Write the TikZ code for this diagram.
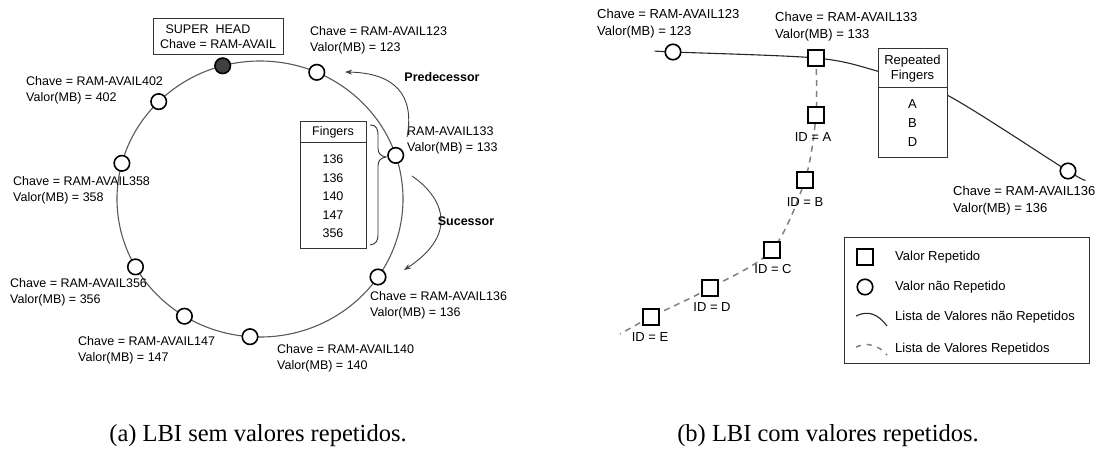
\documentclass[tikz,border=0pt]{standalone}
\usepackage{fontspec}
\setmainfont{Liberation Serif}
\newfontfamily\arialf{Liberation Sans}
\usetikzlibrary{arrows.meta,backgrounds}
\begin{document}
\begin{tikzpicture}[x=1pt,y=-1pt,
  lf/.style={font=\arialf\fontsize{12.5}{16}\selectfont, inner sep=0pt, align=left, anchor=west},
  rf/.style={font=\arialf\fontsize{13}{17}\selectfont, inner sep=0pt, align=left, anchor=west},
  ctext/.style={font=\arialf\fontsize{12.5}{15}\selectfont, inner sep=0pt},
  rctext/.style={font=\arialf\fontsize{13}{15}\selectfont, inner sep=0pt},
  btext/.style={font=\arialf\bfseries\fontsize{12.5}{15}\selectfont, inner sep=0pt},
  ringnode/.style={circle, draw=black, line width=1.6pt, fill=white, minimum size=15.5pt, inner sep=0pt},
  sqnode/.style={rectangle, draw=black, line width=1.8pt, fill=white, minimum size=16.5pt, inner sep=0pt},
  ring/.style={draw=black!65, line width=1.1pt},
  solidlist/.style={draw=black!85, line width=1.1pt},
  dashlist/.style={draw=black!50, line width=1.5pt, dash pattern=on 6pt off 5pt},
  arr/.style={draw=black!75, line width=0.9pt, -{Stealth[length=7pt,width=5pt]}},
  boxn/.style={draw=black!80, line width=1pt, fill=white, inner sep=0pt},
  capt/.style={font=\fontsize{24.5}{28}\selectfont, inner sep=0pt}
]
\useasboundingbox (0,0) rectangle (1109,453);

% ---------------- left diagram ----------------
\coordinate (C) at (260,199);
\draw[ring] (C) ellipse [x radius=143pt, y radius=138pt];

\node[ringnode, fill=black!75] (sh) at (222.7,65.8) {};
\node[ringnode] (n123) at (316.8,72.3) {};
\node[ringnode] (n402) at (158.7,101.6) {};
\node[ringnode] (n133) at (395.7,155.4) {};
\node[ringnode] (n358) at (121.9,163.3) {};
\node[ringnode] (n356) at (135.5,266.9) {};
\node[ringnode] (n147) at (184.4,316.2) {};
\node[ringnode] (n140) at (250,336.7) {};
\node[ringnode] (n136) at (378,277) {};

\node[boxn, minimum width=130pt, minimum height=36pt] (shbox) at (218,36) {};
\node[ctext] (shl1) at (208,29) {SUPER\ \ HEAD};
\node[ctext] (shl2) at (218,44) {Chave = RAM-AVAIL};

\node[lf] (l123) at (310,40.5) {Chave = RAM-AVAIL123\\Valor(MB) = 123};
\node[lf] (l402) at (26,90.5) {Chave = RAM-AVAIL402\\Valor(MB) = 402};
\node[lf] (l133) at (407,140.5) {RAM-AVAIL133\\Valor(MB) = 133};
\node[lf] (l358) at (13,190) {Chave = RAM-AVAIL358\\Valor(MB) = 358};
\node[lf] (l356) at (10,292) {Chave = RAM-AVAIL356\\Valor(MB) = 356};
\node[lf] (l147) at (78,350) {Chave = RAM-AVAIL147\\Valor(MB) = 147};
\node[lf] (l140) at (277,358) {Chave = RAM-AVAIL140\\Valor(MB) = 140};
\node[lf] (l136) at (370,305) {Chave = RAM-AVAIL136\\Valor(MB) = 136};

% fingers table
\node[boxn, minimum width=66pt, minimum height=127pt] (fing) at (333,184.5) {};
\coordinate (fdiv) at (0,142);
\draw[black!80, line width=1pt] (fing.west |- fdiv) -- (fing.east |- fdiv);
\node[ctext] (fhead) at (333,132) {Fingers};
\node[ctext] (f1) at (333,159) {136};
\node[ctext] (f2) at (333,178) {136};
\node[ctext] (f3) at (333,196) {140};
\node[ctext] (f4) at (333,215) {147};
\node[ctext] (f5) at (333,233) {356};

% brace
\draw[black!80, line width=0.9pt] (370,125) .. controls (377,125) and (378,129) .. (378,137)
  -- (378,148) .. controls (378,154) and (381,156) .. (386,157)
  .. controls (381,158) and (378,160) .. (378,166)
  -- (378,235) .. controls (378,241) and (376,244) .. (370,245);

% predecessor / successor
\coordinate (pstart) at (407,137);
\coordinate (pend) at (345,72);
\draw[arr] (pstart) .. controls (415,95) and (395,73) .. (pend);
\node[btext] (pred) at (442,77) {Predecessor};
\coordinate (sstart) at (412,176);
\coordinate (send) at (404,270);
\draw[arr] (sstart) .. controls (440,195) and (462,232) .. (send);
\node[btext] (succ) at (466,221) {Sucessor};

% ---------------- right diagram ----------------
\node[ringnode] (r123) at (673,52) {};
\node[sqnode] (s133) at (816,58) {};
\node[boxn, minimum width=69pt, minimum height=109pt] (rfb) at (912.5,102.5) {};
\coordinate (rdiv) at (0,87);
\draw[black!80, line width=1pt] (rfb.west |- rdiv) -- (rfb.east |- rdiv);
\node[rctext] (rf1) at (912.5,61) {Repeated};
\node[rctext] (rf2) at (912.5,76) {Fingers};
\node[rctext] (rfa) at (912.5,104) {A};
\node[rctext] (rfbb) at (912.5,123) {B};
\node[rctext] (rfd) at (912.5,142) {D};
\node[ringnode] (r136) at (1068,171) {};

\node[sqnode] (sA) at (816,115) {};
\node[sqnode] (sB) at (805,180) {};
\node[sqnode] (sC) at (772,250) {};
\node[sqnode] (sD) at (710,288) {};
\node[sqnode] (sE) at (651,317) {};
\node[rctext] (idA) at (813,137) {ID = A};
\node[rctext] (idB) at (805,202) {ID = B};
\node[rctext] (idC) at (773,269) {ID = C};
\node[rctext] (idD) at (712,307) {ID = D};
\node[rctext] (idE) at (650,337) {ID = E};

\node[rf] (rl123) at (597,24) {Chave = RAM-AVAIL123\\Valor(MB) = 123};
\node[rf] (rl133) at (775,26.5) {Chave = RAM-AVAIL133\\Valor(MB) = 133};
\node[rf] (rl136) at (953,201) {Chave = RAM-AVAIL136\\Valor(MB) = 136};

\coordinate (rstart) at (655,51);
\coordinate (rin) at (877,71);
\coordinate (rout) at (947,95);
\coordinate (rend) at (1085,180);
\coordinate (dend) at (620,334);
\begin{scope}[on background layer]
\draw[solidlist] plot[smooth, tension=0.5] coordinates {(rstart) (r123.center) (s133.center) (rin) (rout) (r136.center) (rend)};
\draw[dashlist] plot[smooth, tension=0.5] coordinates {(s133.center) (sA.center) (sB.center) (sC.center) (sD.center) (sE.center) (dend)};
\end{scope}

% legend
\node[boxn, minimum width=245pt, minimum height=126pt] (leg) at (966.5,300) {};
\node[sqnode] (lsq) at (865,257) {};
\node[ringnode] (lci) at (865,287) {};
\coordinate (la1) at (856,316);
\coordinate (la2) at (887,326);
\coordinate (lb1) at (856,347);
\coordinate (lb2) at (887,355);
\draw[solidlist] (la1) .. controls (868,310) and (878,314) .. (la2);
\draw[dashlist, dash pattern=on 5pt off 6pt] (lb1) .. controls (868,342) and (878,345) .. (lb2);
\node[rf] (lt1) at (895,257) {Valor Repetido};
\node[rf] (lt2) at (895,287) {Valor não Repetido};
\node[rf] (lt3) at (895,317) {Lista de Valores não Repetidos};
\node[rf] (lt4) at (895,349) {Lista de Valores Repetidos};

% captions
\node[capt] (capa) at (258,436) {(a) LBI sem valores repetidos.};
\node[capt] (capb) at (828,436) {(b) LBI com valores repetidos.};
\end{tikzpicture}
\end{document}
